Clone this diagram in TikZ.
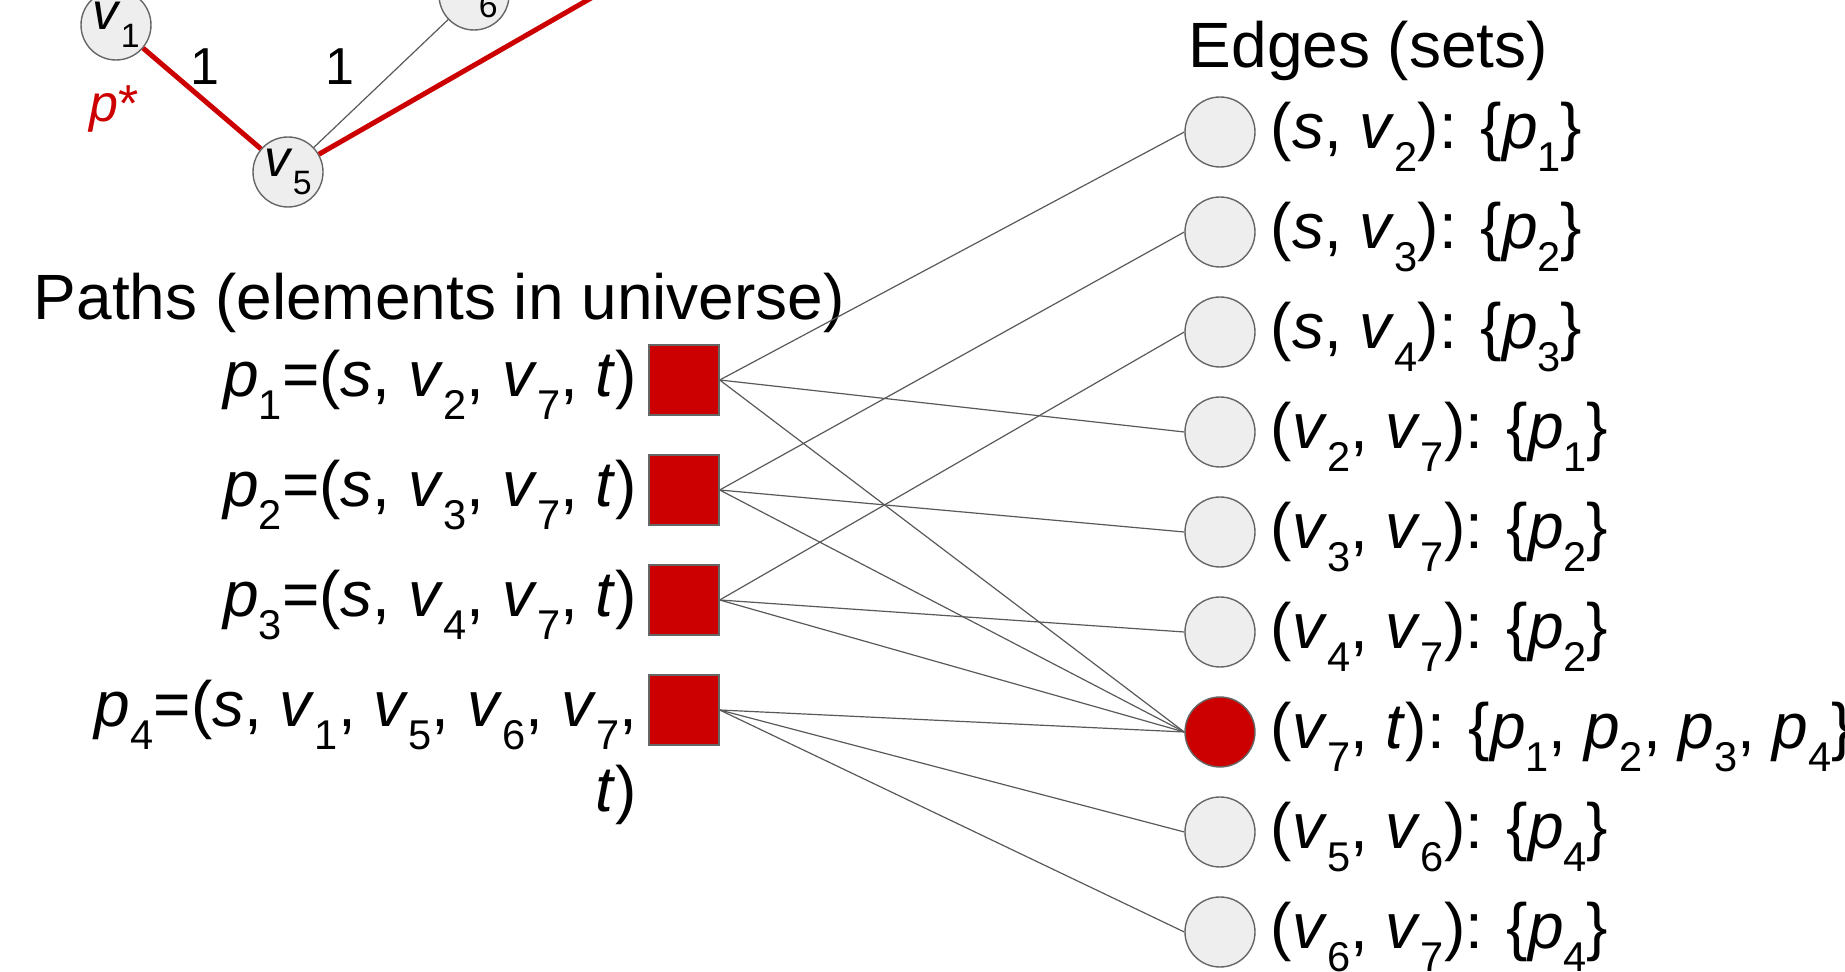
\documentclass[tikz,border=0pt]{standalone}
\usepackage{fontspec}
\setmainfont{Liberation Sans}

\definecolor{pathred}{HTML}{CC0000}
\definecolor{nodefill}{HTML}{EEEEEE}
\definecolor{rim}{HTML}{666666}
\definecolor{wire}{HTML}{595959}

\newcommand{\ix}[1]{\raisebox{-0.35em}{\scalebox{0.65}{#1}}}
\newcommand{\vv}[1]{\textit{v}\ix{#1}}
\newcommand{\pp}[1]{\textit{p}\ix{#1}}
\newcommand{\bigtxt}{\fontsize{16}{21.25}\selectfont}
\newcommand{\smalltxt}{\fontsize{13}{15}\selectfont}

\begin{document}
\begin{tikzpicture}[x=0.25pt,y=-0.25pt,
    vert/.style={draw=rim,fill=nodefill,circle,minimum size=17.5pt,inner sep=0pt,line width=0.35pt,font=\smalltxt},
    elem/.style={draw=rim,fill=pathred,rectangle,minimum size=17.5pt,inner sep=0pt,line width=0.35pt},
    lbl/.style={inner sep=0pt,font=\bigtxt},
    wire/.style={draw=wire,line width=0.3pt},
    redpath/.style={draw=pathred,line width=1.25pt}]
        \clip (0,0) rectangle (1845,972);
        % small graph at the top
        \draw
            (116,25) node[vert] (v1){\vv{1}}
            (288,172) node[vert] (v5){\vv{5}}
            (474,-5) node[vert] (v6){\vv{6}};
        \coordinate (off) at (640,-30);
        \draw[redpath] (v1) -- (v5) -- (off);
        \draw[wire] (v5) -- (v6);
        \node[inner sep=0pt,font=\smalltxt] (w1) at (205,67) {1};
        \node[inner sep=0pt,font=\smalltxt] (w2) at (340,67) {1};
        \node[inner sep=0pt,font=\smalltxt,text=pathred,anchor=base west] (pstar) at (89,122) {\textit{p}*};
        % paths
        \node[lbl,anchor=base west] (ptitle) at (33,320) {Paths (elements in universe)};
        \draw
            (684,380) node[elem] (q1){}
            (684,490) node[elem] (q2){}
            (684,600) node[elem] (q3){}
            (684,710) node[elem] (q4){};
        \node[lbl,anchor=base east] (l1) at (638,397) {\pp{1}=(\textit{s}, \vv{2}, \vv{7}, \textit{t})};
        \node[lbl,anchor=base east] (l2) at (638,507) {\pp{2}=(\textit{s}, \vv{3}, \vv{7}, \textit{t})};
        \node[lbl,anchor=base east] (l3) at (638,617) {\pp{3}=(\textit{s}, \vv{4}, \vv{7}, \textit{t})};
        \node[lbl,anchor=base east,align=right] (l4) at (638,812) {\pp{4}=(\textit{s}, \vv{1}, \vv{5}, \vv{6}, \vv{7},\\ \textit{t})};
        % edges
        \node[lbl,anchor=base west] (etitle) at (1188,68) {Edges (sets)};
        \draw
            (1220,132) node[vert] (e1){}
            (1220,232) node[vert] (e2){}
            (1220,332) node[vert] (e3){}
            (1220,432) node[vert] (e4){}
            (1220,532) node[vert] (e5){}
            (1220,632) node[vert] (e6){}
            (1220,732) node[vert,fill=pathred] (e7){}
            (1220,832) node[vert] (e8){}
            (1220,932) node[vert] (e9){};
        \node[lbl,anchor=base west] (s1) at (1270,149) {(\textit{s}, \vv{2}): \{\pp{1}\}};
        \node[lbl,anchor=base west] (s2) at (1270,249) {(\textit{s}, \vv{3}): \{\pp{2}\}};
        \node[lbl,anchor=base west] (s3) at (1270,349) {(\textit{s}, \vv{4}): \{\pp{3}\}};
        \node[lbl,anchor=base west] (s4) at (1270,449) {(\vv{2}, \vv{7}): \{\pp{1}\}};
        \node[lbl,anchor=base west] (s5) at (1270,549) {(\vv{3}, \vv{7}): \{\pp{2}\}};
        \node[lbl,anchor=base west] (s6) at (1270,649) {(\vv{4}, \vv{7}): \{\pp{2}\}};
        \node[lbl,anchor=base west] (s7) at (1270,749) {(\vv{7}, \textit{t}): \{\pp{1}, \pp{2}, \pp{3}, \pp{4}\}};
        \node[lbl,anchor=base west] (s8) at (1270,849) {(\vv{5}, \vv{6}): \{\pp{4}\}};
        \node[lbl,anchor=base west] (s9) at (1270,949) {(\vv{6}, \vv{7}): \{\pp{4}\}};
        \begin{scope}[wire]
            \draw (q1.east) -- (e1.west);
            \draw (q1.east) -- (e4.west);
            \draw (q1.east) -- (e7.west);
            \draw (q2.east) -- (e2.west);
            \draw (q2.east) -- (e5.west);
            \draw (q2.east) -- (e7.west);
            \draw (q3.east) -- (e3.west);
            \draw (q3.east) -- (e6.west);
            \draw (q3.east) -- (e7.west);
            \draw (q4.east) -- (e7.west);
            \draw (q4.east) -- (e8.west);
            \draw (q4.east) -- (e9.west);
        \end{scope}
\end{tikzpicture}
\end{document}
